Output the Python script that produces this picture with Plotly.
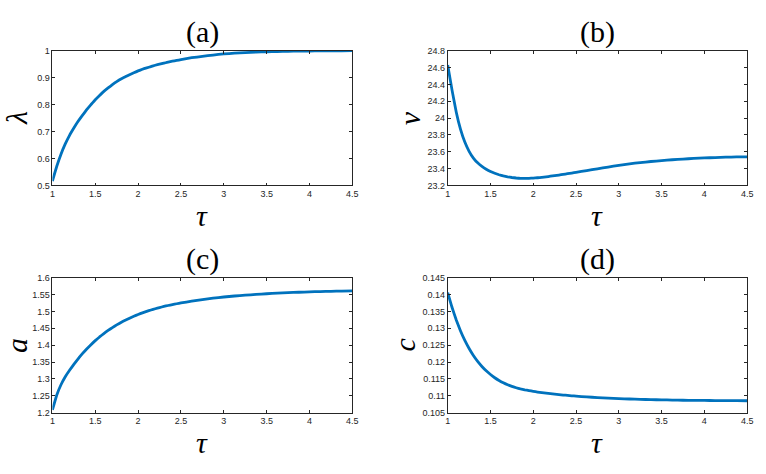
import plotly.graph_objects as go

# ---- data ----
tau = [1.0, 1.05, 1.1, 1.15, 1.2, 1.25, 1.3, 1.35, 1.4, 1.45, 1.5,
       1.55, 1.6, 1.65, 1.7, 1.75, 1.8, 1.85, 1.9, 1.95, 2.0,
       2.05, 2.1, 2.15, 2.2, 2.25, 2.3, 2.35, 2.4, 2.45, 2.5,
       2.625, 2.75, 2.875, 3.0, 3.125, 3.25, 3.375, 3.5,
       3.625, 3.75, 3.875, 4.0, 4.125, 4.25, 4.375, 4.5]

lam = [0.516, 0.570, 0.616, 0.654, 0.686, 0.713, 0.738, 0.760, 0.781, 0.800, 0.818,
       0.834, 0.849, 0.862, 0.874, 0.885, 0.895, 0.903, 0.911, 0.918, 0.925,
       0.931, 0.936, 0.941, 0.946, 0.950, 0.954, 0.958, 0.961, 0.964, 0.967,
       0.974, 0.979, 0.984, 0.988, 0.991, 0.993, 0.995, 0.996,
       0.997, 0.998, 0.9985, 0.999, 0.9993, 0.9995, 0.9998, 1.0]

v = [24.63, 24.335, 24.07, 23.865, 23.715, 23.605, 23.525, 23.468, 23.426, 23.392, 23.365,
     23.344, 23.327, 23.313, 23.302, 23.294, 23.288, 23.284, 23.283, 23.284, 23.287,
     23.291, 23.296, 23.302, 23.309, 23.316, 23.323, 23.331, 23.339, 23.347, 23.355,
     23.376, 23.397, 23.418, 23.438, 23.456, 23.471, 23.484, 23.495,
     23.505, 23.513, 23.520, 23.526, 23.531, 23.535, 23.538, 23.540]

a = [1.2075, 1.2515, 1.2825, 1.306, 1.3255, 1.343, 1.3595, 1.3747, 1.3887, 1.4016, 1.4135,
     1.4244, 1.4345, 1.4438, 1.4523, 1.4602, 1.4674, 1.4741, 1.4802, 1.4859, 1.4911,
     1.4959, 1.5003, 1.5044, 1.5082, 1.5117, 1.5149, 1.5178, 1.5205, 1.5230, 1.5253,
     1.5308, 1.5355, 1.5395, 1.5430, 1.5460, 1.5485, 1.5507, 1.5527,
     1.5544, 1.5559, 1.5572, 1.5583, 1.5592, 1.5600, 1.5607, 1.5612]

c = [0.1406, 0.13625, 0.1325, 0.12924, 0.12643, 0.12401, 0.12194, 0.12019, 0.11868, 0.11739, 0.11628,
     0.11533, 0.11453, 0.11383, 0.11324, 0.11277, 0.11236, 0.11203, 0.11175, 0.11151, 0.11129,
     0.11109, 0.11091, 0.11075, 0.1106, 0.11045, 0.11032, 0.11019, 0.11008, 0.10997, 0.10987,
     0.10963, 0.10944, 0.10927, 0.10913, 0.10901, 0.10891, 0.10883, 0.10876,
     0.1087, 0.10865, 0.10861, 0.10858, 0.10855, 0.10853, 0.10851, 0.10849]

x_ticks = [1, 1.5, 2, 2.5, 3, 3.5, 4, 4.5]
x_ticktext = ["1", "1.5", "2", "2.5", "3", "3.5", "4", "4.5"]
ya_ticks = [0.5, 0.6, 0.7, 0.8, 0.9, 1.0]
ya_text = ["0.5", "0.6", "0.7", "0.8", "0.9", "1"]
yb_ticks = [23.2, 23.4, 23.6, 23.8, 24.0, 24.2, 24.4, 24.6, 24.8]
yb_text = ["23.2", "23.4", "23.6", "23.8", "24", "24.2", "24.4", "24.6", "24.8"]
yc_ticks = [1.2, 1.25, 1.3, 1.35, 1.4, 1.45, 1.5, 1.55, 1.6]
yc_text = ["1.2", "1.25", "1.3", "1.35", "1.4", "1.45", "1.5", "1.55", "1.6"]
yd_ticks = [0.105, 0.11, 0.115, 0.12, 0.125, 0.13, 0.135, 0.14, 0.145]
yd_text = ["0.105", "0.11", "0.115", "0.12", "0.125", "0.13", "0.135", "0.14", "0.145"]

panel_titles = ["(a)", "(b)", "(c)", "(d)"]
y_labels = ["λ", "v", "a", "c"]
x_label = "τ"

W, H = 766, 474
LINE = "#0072BD"
AX = "#262626"

# panel pixel boxes: (left, right, top, bottom)
boxes = [(50, 353.5, 46.7, 184.3), (450, 753, 46.7, 184.3),
         (50, 353.5, 278.7, 416.3), (450, 753, 278.7, 416.3)]

fig = go.Figure()
series = [lam, v, a, c]
yranges = [[0.5, 1.0], [23.2, 24.8], [1.2, 1.6], [0.105, 0.145]]
yticks = [(ya_ticks, ya_text), (yb_ticks, yb_text), (yc_ticks, yc_text), (yd_ticks, yd_text)]

for i, ys in enumerate(series):
    n = "" if i == 0 else str(i + 1)
    fig.add_trace(go.Scatter(x=tau, y=ys, mode="lines",
                             line=dict(color=LINE, width=2.8, shape="spline", smoothing=0.3),
                             xaxis="x" + n, yaxis="y" + n, showlegend=False, hoverinfo="skip"))
    l, r, t, b = boxes[i]
    axcommon = dict(showgrid=False, zeroline=False, showline=True, linecolor=AX, linewidth=0.8,
                    mirror="ticks", ticks="inside", ticklen=3, tickwidth=0.8, tickcolor=AX,
                    tickfont=dict(family="Liberation Sans, Arial", size=9, color=AX))
    fig.update_layout(**{
        "xaxis" + n: dict(domain=[l / W, r / W], range=[1, 4.5], anchor="y" + n,
                          tickvals=x_ticks, ticktext=x_ticktext, **axcommon),
        "yaxis" + n: dict(domain=[1 - b / H, 1 - t / H], range=yranges[i], anchor="x" + n,
                          tickvals=yticks[i][0], ticktext=yticks[i][1], **axcommon),
    })
    cx = (l + r) / 2
    # panel title
    fig.add_annotation(x=cx / W, y=1 - (t - 19) / H, xref="paper", yref="paper",
                       text=panel_titles[i], showarrow=False,
                       font=dict(family="Liberation Serif, Times New Roman", size=30, color="#000000"),
                       xanchor="center", yanchor="middle")
    # x label
    fig.add_annotation(x=cx / W, y=1 - (b + 31) / H, xref="paper", yref="paper",
                       text="<i>" + x_label + "</i>", showarrow=False,
                       font=dict(family="Liberation Serif, Times New Roman", size=30, color="#000000"),
                       xanchor="center", yanchor="middle")
    # y label
    ylx = [13, 411, 13, 406][i]
    fig.add_annotation(x=ylx / W, y=1 - ((t + b) / 2) / H, xref="paper", yref="paper",
                       text="<i>" + y_labels[i] + "</i>", showarrow=False, textangle=-90,
                       font=dict(family="Liberation Serif, Times New Roman", size=30, color="#000000"),
                       xanchor="center", yanchor="middle")

fig.update_layout(width=W, height=H, margin=dict(l=0, r=0, t=0, b=0),
                  paper_bgcolor="white", plot_bgcolor="white")
fig.write_html("out.html")
